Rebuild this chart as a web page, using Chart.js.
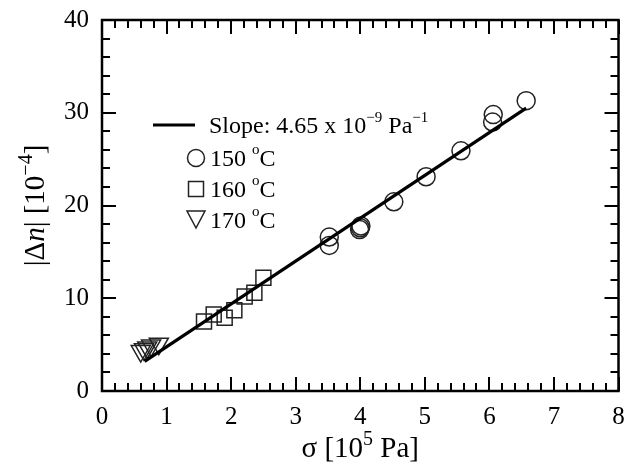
<!DOCTYPE html>
<html><head><meta charset="utf-8">
<script src="https://cdn.jsdelivr.net/npm/chart.js@4.4.0/dist/chart.umd.min.js"></script>
<style>html,body{margin:0;padding:0;background:#fff;}</style>
</head><body>
<canvas id="c" width="631" height="465"></canvas>
<script>
// ---- data ----
const s150x = [3.52, 3.52, 3.99, 4.00, 4.01, 4.52, 5.02, 5.56, 6.05, 6.06, 6.57];
const s150y = [16.6, 15.7, 17.4, 17.6, 17.8, 20.4, 23.1, 25.9, 29.0, 29.8, 31.3];
const s160x = [1.58, 1.73, 1.90, 2.05, 2.21, 2.36, 2.50];
const s160y = [7.5, 8.25, 7.9, 8.7, 10.2, 10.6, 12.2];
const s170x = [0.60, 0.65, 0.70, 0.76, 0.88];
const s170y = [4.3, 4.5, 4.7, 4.9, 5.1];
const fitX = [0.66, 6.57];
const fitY = [3.2, 30.5];
const xTickLabels = [0, 1, 2, 3, 4, 5, 6, 7, 8];
const yTickLabels = [0, 10, 20, 30, 40];
const xMinorStep = 0.2, yMinorStep = 2;

const pts = (xs, ys) => xs.map((x, i) => ({x: x, y: ys[i]}));
const FONT = '"Liberation Serif", "DejaVu Serif", serif';
const INK = '#000';

const framePlugin = {
  id: 'frame',
  afterDatasetsDraw(chart) {
    const ctx = chart.ctx, ca = chart.chartArea;
    const xs = chart.scales.x, ys = chart.scales.y;
    ctx.save();
    ctx.strokeStyle = INK;
    ctx.lineWidth = 2;
    ctx.lineCap = 'butt';
    const nx = Math.round((xs.max - xs.min) / xMinorStep);
    for (let i = 0; i <= nx; i++) {
      const v = xs.min + i * xMinorStep;
      const major = Math.abs(v - Math.round(v)) < 1e-6;
      const len = major ? 14 : 8;
      const px = Math.round(xs.getPixelForValue(v));
      ctx.beginPath();
      ctx.moveTo(px, ca.bottom); ctx.lineTo(px, ca.bottom - len);
      ctx.moveTo(px, ca.top); ctx.lineTo(px, ca.top + len);
      ctx.stroke();
    }
    const ny = Math.round((ys.max - ys.min) / yMinorStep);
    for (let i = 0; i <= ny; i++) {
      const v = ys.min + i * yMinorStep;
      const major = Math.abs(v % 10) < 1e-6;
      const len = major ? 14 : 8;
      const py = Math.round(ys.getPixelForValue(v));
      ctx.beginPath();
      ctx.moveTo(ca.left, py); ctx.lineTo(ca.left + len, py);
      ctx.moveTo(ca.right, py); ctx.lineTo(ca.right - len, py);
      ctx.stroke();
    }
    ctx.lineWidth = 2.5;
    ctx.strokeRect(ca.left, ca.top, ca.right - ca.left, ca.bottom - ca.top);

    // ---- legend ----
    ctx.fillStyle = INK;
    ctx.textBaseline = 'alphabetic';
    ctx.textAlign = 'left';
    const big = '24px ' + FONT, small = '15px ' + FONT;
    ctx.lineWidth = 3;
    ctx.beginPath(); ctx.moveTo(153, 125); ctx.lineTo(195, 125); ctx.stroke();
    let x = 209, y = 133;
    const piece = (t, f, dy) => { ctx.font = f; ctx.fillText(t, x, y + (dy || 0)); x += ctx.measureText(t).width; };
    piece('Slope: 4.65 x 10', big);
    piece('\u22129', small, -11);
    piece(' Pa', big);
    piece('\u22121', small, -11);

    ctx.strokeStyle = '#222';
    ctx.lineWidth = 1.5;
    ctx.beginPath(); ctx.arc(196, 158, 8.5, 0, Math.PI * 2); ctx.stroke();
    ctx.strokeRect(188.5, 181.5, 15, 15);
    ctx.beginPath();
    ctx.moveTo(187, 211); ctx.lineTo(205, 211); ctx.lineTo(196, 228); ctx.closePath(); ctx.stroke();
    const rows = [['150', 166], ['160', 197], ['170', 228]];
    rows.forEach(r => {
      x = 210; y = r[1];
      piece(r[0], big);
      x += 6;
      piece('o', small, -12);
      piece('C', big);
    });

    // ---- axis titles ----
    const T = '29px ' + FONT, S = '20px ' + FONT;
    const partsX = [['\u03c3 [10', T, 0], ['5', S, -12], [' Pa]', T, 0]];
    let w = 0;
    partsX.forEach(p => { ctx.font = p[1]; w += ctx.measureText(p[0]).width; });
    x = (ca.left + ca.right) / 2 - w / 2; y = 457;
    partsX.forEach(p => piece(p[0], p[1], p[2]));

    const partsY = [['|\u0394', T, 0], ['n', 'italic ' + T, 0], ['| [10', T, 0], ['\u22124', S, -12], [']', T, 0]];
    w = 0;
    partsY.forEach(p => { ctx.font = p[1]; w += ctx.measureText(p[0]).width; });
    ctx.translate(44, (ca.top + ca.bottom) / 2);
    ctx.rotate(-Math.PI / 2);
    x = -w / 2; y = 0;
    partsY.forEach(p => piece(p[0], p[1], p[2]));
    ctx.restore();
  }
};

const markerStroke = '#222';
new Chart(document.getElementById('c'), {
  type: 'scatter',
  data: {
    datasets: [
      { label: 'fit', data: pts(fitX, fitY), showLine: true, borderColor: INK, borderWidth: 3.2,
        pointRadius: 0, fill: false, order: 0 },
      { label: '150', data: pts(s150x, s150y), pointStyle: 'circle', pointRadius: 9,
        borderColor: markerStroke, backgroundColor: 'rgba(0,0,0,0)', borderWidth: 1.5, order: 1 },
      { label: '160', data: pts(s160x, s160y), pointStyle: 'rect', pointRadius: 10.6,
        borderColor: markerStroke, backgroundColor: 'rgba(0,0,0,0)', borderWidth: 1.5, order: 2 },
      { label: '170', data: pts(s170x, s170y), pointStyle: 'triangle', rotation: 180, pointRadius: 11,
        borderColor: markerStroke, backgroundColor: 'rgba(0,0,0,0)', borderWidth: 1.5, order: 3 }
    ]
  },
  options: {
    responsive: false,
    animation: false,
    events: [],
    layout: { padding: { left: 0, right: 7, top: 20, bottom: 0 } },
    plugins: { legend: { display: false }, tooltip: { enabled: false } },
    scales: {
      x: {
        type: 'linear', min: 0, max: 8,
        afterBuildTicks: s => { s.ticks = xTickLabels.map(v => ({value: v})); },
        afterFit: s => { s.height = 74; s.paddingLeft = 0; s.paddingRight = 0; },
        grid: { display: false, drawTicks: false },
        border: { display: false },
        ticks: { padding: 11, color: INK, font: { family: FONT, size: 25 }, maxRotation: 0,
                 callback: v => String(v) }
      },
      y: {
        type: 'linear', min: 0, max: 40,
        afterBuildTicks: s => { s.ticks = yTickLabels.map(v => ({value: v})); },
        afterFit: s => { s.width = 102; s.paddingTop = 0; s.paddingBottom = 0; },
        grid: { display: false, drawTicks: false },
        border: { display: false },
        ticks: { padding: 13, color: INK, font: { family: FONT, size: 25 },
                 callback: v => String(v) }
      }
    }
  },
  plugins: [framePlugin]
});
</script>
</body></html>
